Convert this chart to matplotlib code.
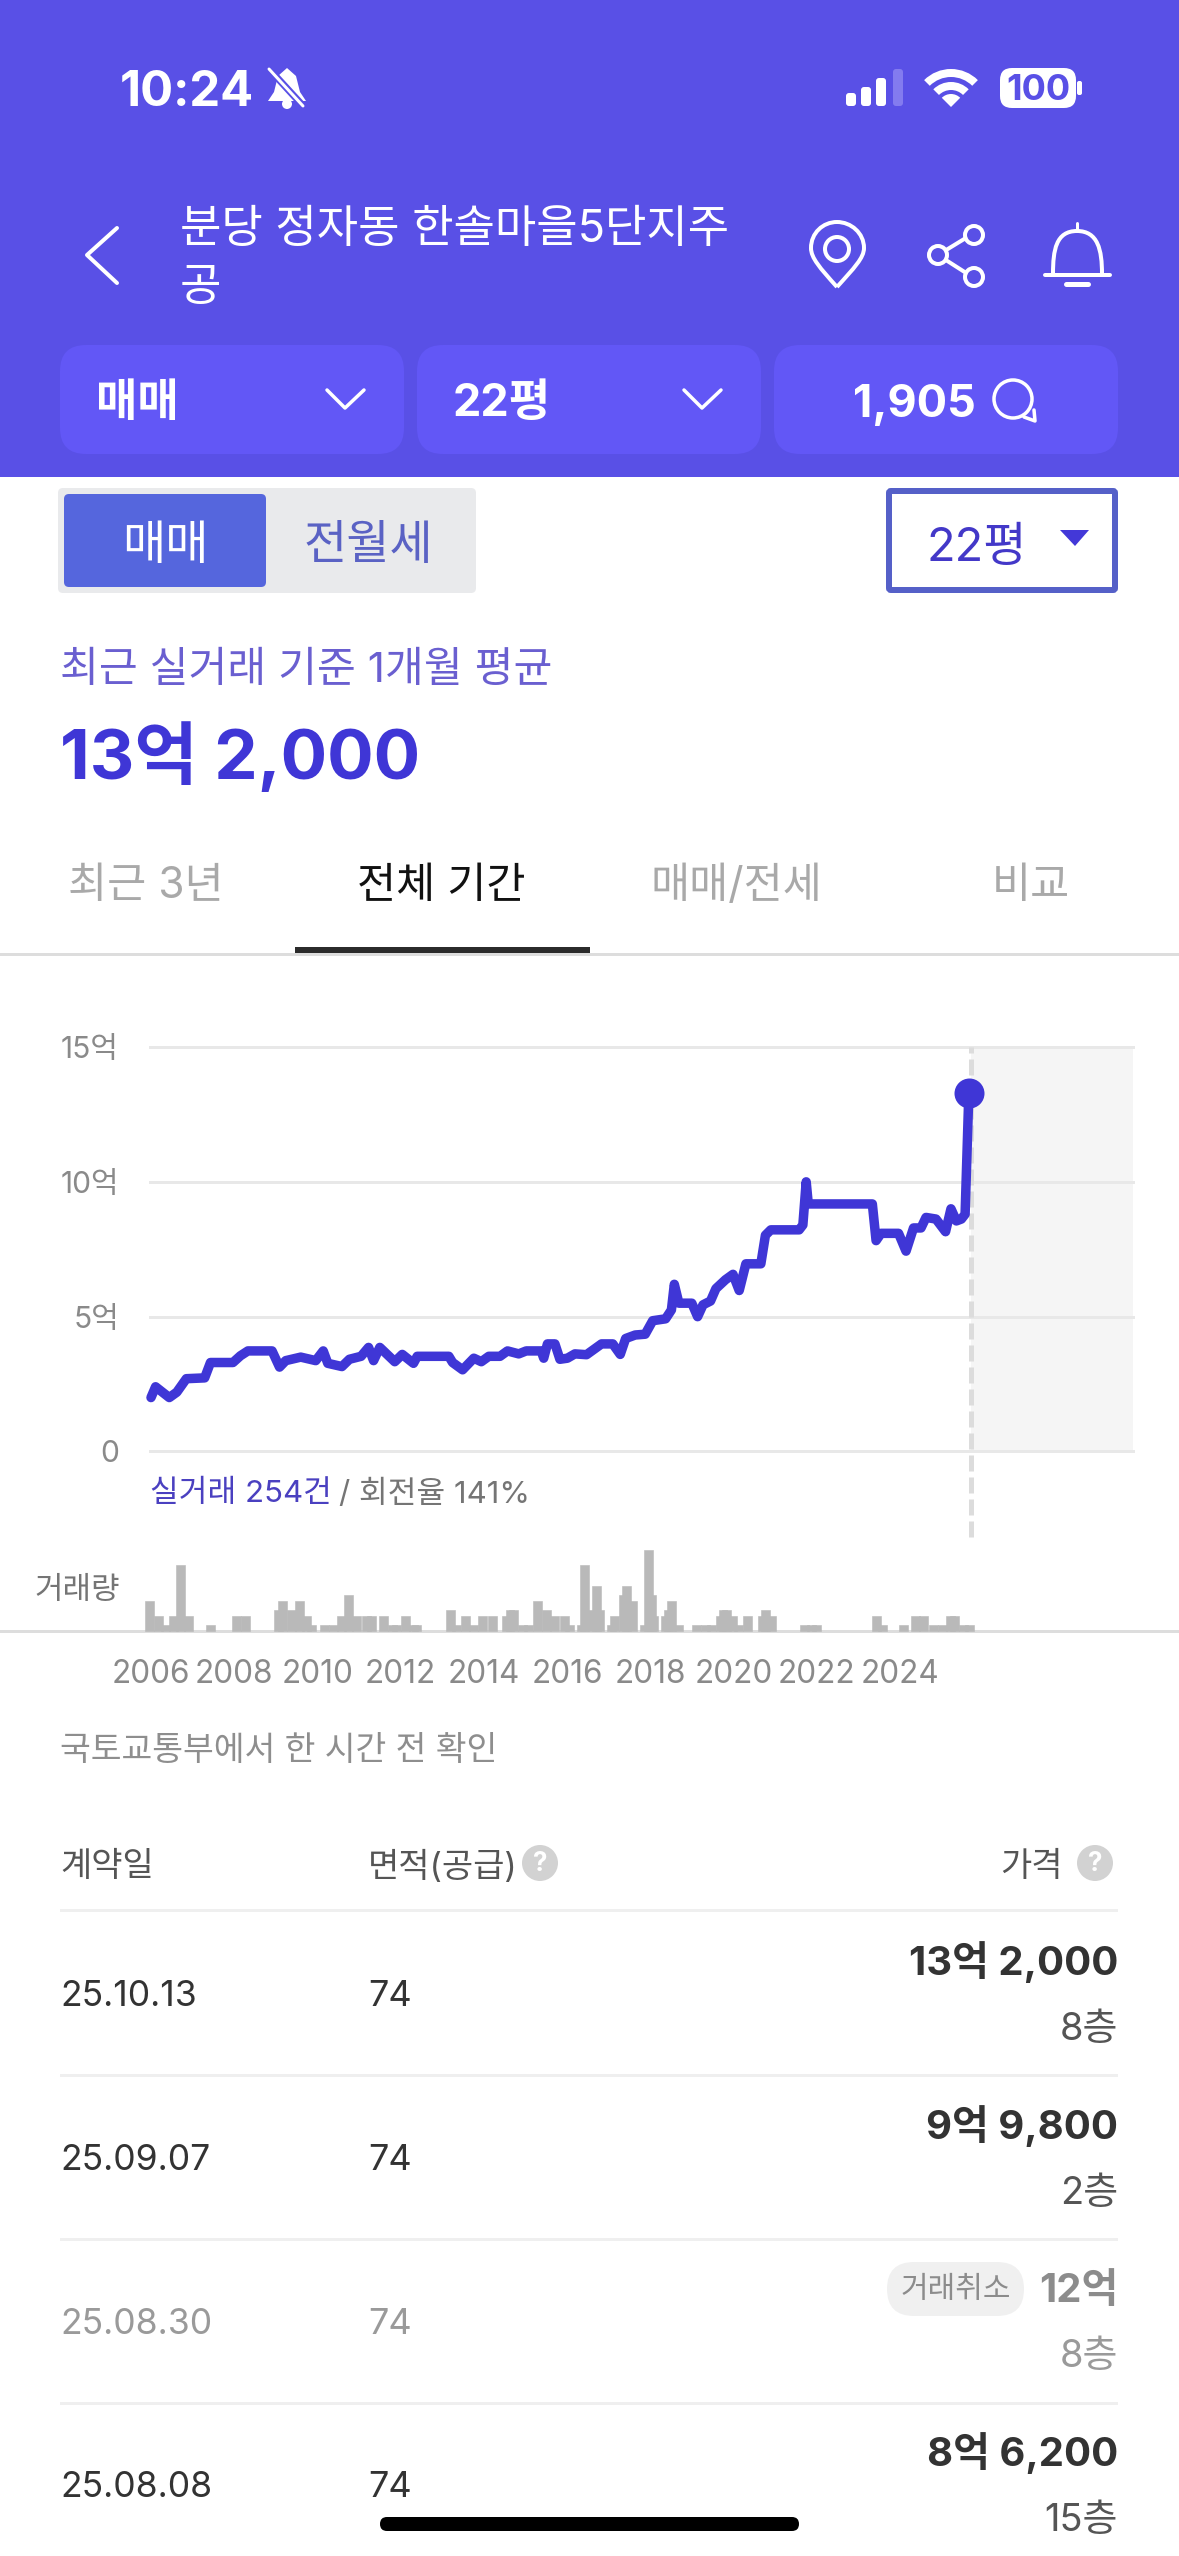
import matplotlib

matplotlib.use("Agg")
from matplotlib import pyplot as plt
from matplotlib.patches import Circle, FancyBboxPatch, PathPatch, Polygon, Wedge
from matplotlib.path import Path

plt.rcParams["font.family"] = ["Inter", "Noto Sans CJK KR", "DejaVu Sans"]

W, H = 1179, 2556

# price history, decimal year / 억
price_years = [
    2006.0, 2006.11, 2006.44, 2006.62, 2006.85, 2007.29, 2007.43, 2007.97, 2008.15, 2008.33,
    2008.91, 2009.09, 2009.24, 2009.6, 2009.96, 2010.14, 2010.25, 2010.59, 2010.77, 2011.05,
    2011.23, 2011.35, 2011.5, 2011.86, 2012.04, 2012.31, 2012.4, 2013.16, 2013.25, 2013.49,
    2013.76, 2013.94, 2014.12, 2014.39, 2014.57, 2014.84, 2015.02, 2015.38, 2015.44, 2015.53,
    2015.71, 2015.83, 2016.01, 2016.19, 2016.47, 2016.83, 2017.1, 2017.28, 2017.41, 2017.64,
    2017.88, 2018.06, 2018.37, 2018.51, 2018.58, 2018.69, 2019.0, 2019.14, 2019.27, 2019.45,
    2019.58, 2019.81, 2019.99, 2020.14, 2020.3, 2020.66, 2020.77, 2020.9, 2021.58, 2021.67,
    2021.75, 2021.8, 2023.34, 2023.43, 2023.55, 2023.97, 2024.15, 2024.33, 2024.51, 2024.63,
    2024.87, 2025.1, 2025.23, 2025.36, 2025.48, 2025.57, 2025.66,
]
price_values = [
    2.0, 2.4, 2.0, 2.2, 2.7, 2.73, 3.3, 3.3, 3.55, 3.73,
    3.73, 3.13, 3.37, 3.5, 3.37, 3.73, 3.27, 3.15, 3.42, 3.53,
    3.86, 3.37, 3.86, 3.33, 3.6, 3.27, 3.53, 3.53, 3.3, 3.03,
    3.46, 3.33, 3.53, 3.53, 3.73, 3.62, 3.73, 3.73, 3.46, 3.99,
    3.99, 3.42, 3.46, 3.62, 3.59, 3.99, 3.99, 3.6, 4.19, 4.32,
    4.35, 4.85, 4.92, 5.25, 6.2, 5.5, 5.5, 5.0, 5.44, 5.58,
    6.04, 6.37, 6.57, 5.97, 6.96, 6.96, 8.02, 8.22, 8.22, 8.4,
    10.0, 9.18, 9.18, 7.82, 8.09, 8.09, 7.43, 8.29, 8.29, 8.68,
    8.62, 8.15, 9.0, 8.55, 8.62, 8.8, 13.29,
]

# trading volume bars
volume_years = [
    2005.97, 2006.19, 2006.34, 2006.55, 2006.7, 2006.91, 2007.42, 2008.06, 2008.28, 2009.07,
    2009.15, 2009.37, 2009.58, 2009.73, 2009.87, 2010.17, 2010.38, 2010.59, 2010.74, 2010.95,
    2011.17, 2011.31, 2011.59, 2011.81, 2011.91, 2012.11, 2012.32, 2012.39, 2013.19, 2013.35,
    2013.55, 2013.76, 2013.98, 2014.2, 2014.55, 2014.63, 2014.71, 2014.92, 2015.07, 2015.28,
    2015.5, 2015.71, 2015.93, 2016.07, 2016.36, 2016.43, 2016.58, 2016.72, 2016.79, 2017.08,
    2017.15, 2017.36, 2017.44, 2017.58, 2017.86, 2017.95, 2018.02, 2018.09, 2018.37, 2018.44,
    2018.52, 2018.67, 2019.11, 2019.32, 2019.47, 2019.68, 2019.75, 2019.83, 2019.97, 2020.12,
    2020.33, 2020.69, 2020.76, 2020.91, 2021.7, 2021.88, 2021.99, 2023.43, 2023.58, 2024.08,
    2024.37, 2024.58, 2024.81, 2025.02, 2025.23, 2025.31, 2025.52, 2025.67,
]
volume_values = [
    10, 5, 2, 5, 22, 5, 2, 5, 5, 7,
    10, 7, 10, 5, 2, 2, 2, 5, 12, 5,
    5, 5, 5, 2, 2, 5, 2, 2, 7, 2,
    5, 2, 5, 5, 5, 7, 7, 2, 2, 10,
    7, 5, 5, 2, 2, 22, 7, 15, 7, 2,
    5, 12, 15, 10, 2, 27, 12, 5, 5, 7,
    10, 2, 2, 2, 2, 5, 7, 7, 5, 2,
    5, 5, 7, 5, 2, 2, 2, 5, 2, 2,
    5, 5, 2, 2, 5, 5, 2, 2,
]

price_ticks = [0, 5, 10, 15]
price_tick_labels = ["0", "5억", "10억", "15억"]
year_ticks = [2006, 2008, 2010, 2012, 2014, 2016, 2018, 2020, 2022, 2024]

# table rows
row_dates = ["25.10.13", "25.09.07", "25.08.30", "25.08.08"]
row_areas = ["74", "74", "74", "74"]
row_prices = ["13억 2,000", "9억 9,800", "12억", "8억 6,200"]
row_floors = ["8층", "2층", "8층", "15층"]

tab_labels = ["최근 3년", "전체 기간", "매매/전세", "비교"]

HEADER = "#5950e6"
PILL = "#6257f6"
LINE = "#3f36d6"
GRID = "#e8e8e8"
TICK = "#8a8a8a"


def fs(px):
    return px * 0.72


fig = plt.figure(figsize=(W / 100, H / 100), dpi=100, facecolor="white")

ui = fig.add_axes([0, 0, 1, 1])
ui.set_xlim(0, W)
ui.set_ylim(H, 0)
ui.axis("off")


def box(x0, y0, x1, y1, color, radius=0, edge="none", lw=0, z=1):
    ui.add_patch(FancyBboxPatch((x0, y0), x1 - x0, y1 - y0, boxstyle=f"round,pad=0,rounding_size={radius}",
                                facecolor=color, edgecolor=edge, linewidth=fs(lw), zorder=z))


def stroke(xs, ys, color="white", lw=4, z=3):
    ui.plot(xs, ys, color=color, lw=fs(lw), solid_capstyle="round", solid_joinstyle="round", zorder=z)


def label(x, y, s, size, color, ha="left", weight="normal", z=4):
    # text sits a little high with va=center, so nudge by size
    ui.text(x, y + size * 0.1, s, fontsize=fs(size), color=color, ha=ha, va="center", fontweight=weight, zorder=z)


def ring(x, y, r, lw=4, color="white", face="none", z=3):
    ui.add_patch(Circle((x, y), r, facecolor=face, edgecolor=color, linewidth=fs(lw), zorder=z))


# header block
ui.add_patch(plt.Rectangle((0, 0), W, 477, facecolor=HEADER, edgecolor="none", zorder=0))
label(120, 88, "10:24", 49, "white", weight="bold")

# muted bell
ui.add_patch(Polygon([(287, 68), (296, 76), (300, 92), (306, 101), (268, 101), (274, 92), (278, 76)],
                     facecolor="white", edgecolor="none", zorder=3))
ui.add_patch(Circle((287, 104), 5, facecolor="white", zorder=3))
stroke([271, 305], [71, 108], color=HEADER, lw=7)
stroke([269, 303], [69, 106], lw=3)

# signal bars
signal_left = [846, 861, 876, 893]
signal_top = [93, 87, 78, 69]
for i, (bx, top) in enumerate(zip(signal_left, signal_top)):
    box(bx, top, bx + 10, 106, "white" if i < 3 else "#837bef", radius=3, z=3)

# wifi
ui.add_patch(Wedge((951, 107), 38, 225, 315, width=8, facecolor="white", zorder=3))
ui.add_patch(Wedge((951, 107), 25, 225, 315, width=8, facecolor="white", zorder=3))
ui.add_patch(Wedge((951, 107), 13, 225, 315, facecolor="white", zorder=3))

# battery
box(1000, 68, 1076, 108, "white", radius=12, z=3)
box(1077, 81, 1082, 95, "white", radius=2, z=3)
label(1038, 87, "100", 36, HEADER, ha="center", weight="bold")

# back arrow and title
stroke([117, 87, 117], [228, 255, 283], lw=4)
label(180, 226, "분당 정자동 한솔마을5단지주", 45, "white")
label(180, 284, "공", 45, "white")

# pin icon
pin = Path(
    [(837, 287), (820, 268), (811, 258), (811, 248), (811, 233), (823, 222), (837, 222),
     (851, 222), (864, 233), (864, 248), (864, 258), (854, 268), (837, 287)],
    [Path.MOVETO] + [Path.CURVE4] * 12,
)
ui.add_patch(PathPatch(pin, facecolor="none", edgecolor="white", linewidth=fs(4), zorder=3))
ring(837, 249, 12)

# share icon
stroke([974, 938, 974], [233, 255, 278])
ring(974, 235, 9, face=HEADER, z=4)
ring(938, 255, 9, face=HEADER, z=4)
ring(974, 277, 9, face=HEADER, z=4)

# bell icon
bell = Path(
    [(1053, 274), (1053, 250), (1056, 231), (1077, 231), (1098, 231), (1102, 250), (1102, 274)],
    [Path.MOVETO] + [Path.CURVE4] * 6,
)
ui.add_patch(PathPatch(bell, facecolor="none", edgecolor="white", linewidth=fs(4), zorder=3))
stroke([1045, 1110], [275, 275])
stroke([1077, 1077], [223, 230], lw=3)
stroke([1066, 1088], [284, 284], lw=5)

# selector pills
for x0 in [60, 417, 774]:
    box(x0, 345, x0 + 344, 454, PILL, radius=26)
label(96, 400, "매매", 45, "white", weight="bold")
label(453, 400, "22평", 45, "white", weight="bold")
label(853, 400, "1,905", 45, "white", weight="bold")
stroke([327, 345, 364], [390, 408, 390], lw=3.5)
stroke([684, 702, 721], [390, 408, 390], lw=3.5)
ring(1013, 399, 19, lw=3.5)
stroke([1024, 1035, 1034], [417, 421, 410], lw=3.5)

# sale / rent toggle
box(58, 488, 476, 593, "#e9eaec", radius=5)
box(64, 494, 266, 587, "#5566dd", radius=5, z=2)
label(165, 542, "매매", 47, "white", ha="center")
label(368, 542, "전월세", 47, "#5a62c4", ha="center")

# size dropdown
box(889, 491, 1115, 590, "white", radius=2, edge="#5560c8", lw=6)
label(926, 544, "22평", 47, "#4338c8")
ui.add_patch(Polygon([(1060, 530), (1089, 530), (1075, 546)], facecolor="#4338d8", edgecolor="none", zorder=3))

label(60, 667, "최근 실거래 기준 1개월 평균", 42.2, "#6a5fd0")
label(60, 751, "13억 2,000", 69, LINE, weight="bold")

# tabs
tab_x = [146, 441, 736, 1031]
tab_colors = ["#a9a9a9", "#111111", "#a9a9a9", "#a9a9a9"]
for x, tab, c in zip(tab_x, tab_labels, tab_colors):
    label(x, 882, tab, 42.5, c, ha="center")
ui.add_patch(plt.Rectangle((0, 953), W, 3, facecolor="#dddddd", edgecolor="none", zorder=1))
ui.add_patch(plt.Rectangle((295, 947), 295, 6, facecolor="#2b2b2b", edgecolor="none", zorder=2))

# price chart, same x scale in both axes
x_min = 2005.976
x_max = 2029.606
end_year = 2025.71

ax = fig.add_axes([150 / W, 1 - 1451.5 / H, (1133 - 150) / W, (1451.5 - 1047) / H], facecolor="none")
ax.set_xlim(x_min, x_max)
ax.set_ylim(0, 15)
for side in ax.spines.values():
    side.set_visible(False)
ax.axvspan(end_year, x_max, color="#f5f5f5", lw=0, zorder=0)
ax.set_yticks(price_ticks, labels=price_tick_labels, fontsize=fs(30), color=TICK)
ax.set_xticks([])
ax.tick_params(axis="y", length=0, pad=fs(31))
ax.yaxis.grid(True, color=GRID, lw=fs(3), zorder=1)
for gl in ax.get_ygridlines():
    gl.set_clip_on(False)
ax.set_axisbelow(True)
ax.axvline(end_year, ymin=-0.211, ymax=1, color="#dcdcdc", lw=fs(5), dashes=(3.2, 1.2), clip_on=False, zorder=2)
ax.plot(price_years, price_values, color=LINE, lw=fs(9.5), solid_joinstyle="round", solid_capstyle="round",
        zorder=3, clip_on=False)
ax.plot(price_years[-1], price_values[-1], "o", color=LINE, ms=fs(30), mew=0, zorder=4, clip_on=False)

label(150, 1491, "실거래 254건", 31.2, "#4a40c0")
label(339, 1491, "/ 회전율 141%", 31.2, "#757575")

# volume bars
ax_vol = fig.add_axes([150 / W, 1 - 1631 / H, (1133 - 150) / W, 91 / H], facecolor="none")
ax_vol.set_xlim(x_min, x_max)
ax_vol.set_ylim(0, 30.33)
ax_vol.bar(volume_years, volume_values, width=0.216, color="#b9b9b9", edgecolor="#b9b9b9", lw=0.4, clip_on=False)
for side in ax_vol.spines.values():
    side.set_visible(False)
ax_vol.set_yticks([])
ax_vol.set_xticks(year_ticks, labels=[str(y) for y in year_ticks], fontsize=fs(31.5), color=TICK)
ax_vol.tick_params(axis="x", length=0, pad=fs(28))
label(34, 1588, "거래량", 31, "#757575")
ui.add_patch(plt.Rectangle((0, 1629.5), W, 3, facecolor="#dddddd", edgecolor="none", zorder=1))

# transaction table
label(60, 1748, "국토교통부에서 한 시간 전 확인", 33.5, "#8e8e8e")
label(60, 1864, "계약일", 34, "#555555")
label(368, 1864, "면적(공급)", 34, "#555555")
label(1063, 1864, "가격", 34, "#555555", ha="right")
for qx in [540, 1095]:
    ui.add_patch(Circle((qx, 1863), 18, facecolor="#d2d2d2", zorder=3))
    label(qx, 1861, "?", 26, "white", ha="center", weight="bold")

row_lines = [1910, 2075, 2239, 2403]
date_y = [1993, 2157, 2321, 2484]
price_y = [1958, 2122, 2287, 2449]
floor_y = [2026, 2190, 2353, 2517]
for i in range(len(row_dates)):
    ui.add_patch(plt.Rectangle((60, row_lines[i] - 1.5), 1058, 3, facecolor="#efefef", edgecolor="none", zorder=1))
    cancelled = i == 2
    label(60, date_y[i], row_dates[i], 35.5, "#9a9a9a" if cancelled else "#333333")
    label(368, date_y[i], row_areas[i], 36, "#9a9a9a" if cancelled else "#333333")
    label(1118, price_y[i], row_prices[i], 40, "#8c8c8c" if cancelled else "#333333", ha="right", weight="bold")
    label(1118, floor_y[i], row_floors[i], 38, "#9a9a9a" if cancelled else "#555555", ha="right")

box(887, 2262, 1024, 2316, "#f0f0f0", radius=27)
label(956, 2287, "거래취소", 30, "#8c8c8c", ha="center")

# home indicator
box(380, 2517, 799, 2531, "black", radius=7, z=5)

fig.savefig("out.png", dpi=100)
